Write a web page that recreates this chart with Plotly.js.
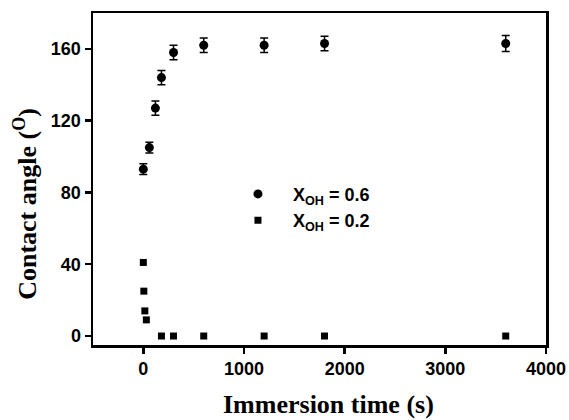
<!DOCTYPE html>
<html><head><meta charset="utf-8">
<script src="https://cdn.plot.ly/plotly-3.0.1.min.js"></script>
<style>html,body{margin:0;padding:0;background:#fff}</style>
</head><body>
<div id="chart" style="width:569px;height:420px"></div>
<script>
const timeA = [0, 60, 120, 180, 300, 600, 1200, 1800, 3600];
const angleA = [93, 105, 127, 144, 158, 162, 162, 163, 163];
const errA = [3, 3, 4, 4, 4, 4, 4, 4, 4.5];
const timeB = [0, 5, 15, 30, 180, 300, 600, 1200, 1800, 3600];
const angleB = [41, 25, 14, 9, 0, 0, 0, 0, 0, 0];
const xTicks = [0, 1000, 2000, 3000, 4000];
const yTicks = [0, 40, 80, 120, 160];

const tickFont = {family: 'Liberation Sans, Arial, sans-serif', size: 18, color: '#000'};
const titleFont = {family: 'Liberation Serif, Times New Roman, serif', size: 26, color: '#000'};

const data = [
  {x: timeA, y: angleA, type: 'scatter', mode: 'markers', name: '&#160;&#160;&#160;<b>X<sub>OH</sub> = 0.6</b>',
   marker: {symbol: 'circle', size: 9, color: '#000'},
   error_y: {type: 'data', array: errA, visible: true, color: '#000', thickness: 1.5, width: 4}},
  {x: timeB, y: angleB, type: 'scatter', mode: 'markers', name: '&#160;&#160;&#160;<b>X<sub>OH</sub> = 0.2</b>',
   marker: {symbol: 'square', size: 7, color: '#000'}}
];
const layout = {
  width: 569, height: 420,
  margin: {l: 93, r: 23, t: 13, b: 75},
  paper_bgcolor: '#fff', plot_bgcolor: '#fff',
  showlegend: true,
  legend: {x: 0.32, y: 0.51, xanchor: 'left', yanchor: 'top', bgcolor: 'rgba(0,0,0,0)',
    font: {family: 'Liberation Sans, Arial, sans-serif', size: 18, color: '#000'},
    tracegroupgap: 0},
  xaxis: {range: [-500, 4000], tickvals: xTicks, ticktext: xTicks.map(v => '<b>' + v + '</b>'),
    showgrid: false, zeroline: false, showline: true, mirror: true, linewidth: 2.5, linecolor: '#000',
    ticks: 'outside', ticklen: 6, tickwidth: 2.5, tickcolor: '#000', tickfont: tickFont},
  yaxis: {range: [-5, 180], tickvals: yTicks, ticktext: yTicks.map(v => '<b>' + v + '</b>'),
    showgrid: false, zeroline: false, showline: true, mirror: true, linewidth: 2.5, linecolor: '#000',
    ticks: 'outside', ticklen: 6, tickwidth: 2.5, tickcolor: '#000', tickfont: tickFont},
  annotations: [
    {text: '<b>Immersion time (s)</b>', xref: 'paper', yref: 'paper', x: 0.519, y: -0.178,
     xanchor: 'center', yanchor: 'middle', showarrow: false, font: titleFont},
    {text: '<b>Contact angle (<sup>O</sup>)</b>', xref: 'paper', yref: 'paper', x: -0.148, y: 0.425,
     xanchor: 'center', yanchor: 'middle', textangle: -90, showarrow: false, font: titleFont}
  ]
};
Plotly.newPlot('chart', data, layout, {displayModeBar: false, staticPlot: true});
</script>
</body></html>
